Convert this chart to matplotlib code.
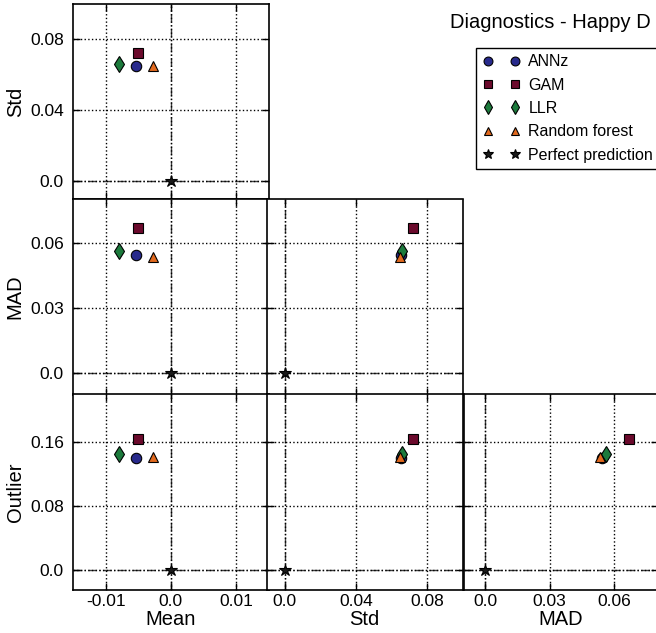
import matplotlib
matplotlib.use("Agg")
import matplotlib.pyplot as plt
from matplotlib.ticker import FixedLocator, FixedFormatter, NullFormatter

plt.rcParams['font.family'] = ['Liberation Sans', 'DejaVu Sans']

methods = ["ANNz", "GAM", "LLR", "Random forest", "Perfect prediction"]
colors = ["#282a8c", "#6b0a2c", "#1c7a3c", "#e2691e", "#1a1a1a"]
markers = ["o", "s", "d", "^", "*"]
msizes = [7.5, 7.5, 8, 7.5, 9]

metrics = ["Mean", "Std", "MAD", "Outlier"]
mean_vals = [-0.0054, -0.0051, -0.0079, -0.0028, 0.0]
std_vals = [0.0652, 0.0722, 0.0661, 0.0650, 0.0]
mad_vals = [0.0542, 0.0668, 0.0561, 0.0534, 0.0]
outlier_vals = [0.140, 0.164, 0.145, 0.141, 0.0]
values = {"Mean": mean_vals, "Std": std_vals, "MAD": mad_vals, "Outlier": outlier_vals}

limits = {"Mean": (-0.015, 0.015), "Std": (-0.01, 0.1), "MAD": (-0.01, 0.08), "Outlier": (-0.024, 0.22)}
ticks = {"Mean": [-0.01, 0.0, 0.01], "Std": [0.0, 0.04, 0.08], "MAD": [0.0, 0.03, 0.06], "Outlier": [0.0, 0.08, 0.16]}
ticklabels = {"Mean": ["-0.01", "0.0", "0.01"], "Std": ["0.0", "0.04", "0.08"],
              "MAD": ["0.0", "0.03", "0.06"], "Outlier": ["0.0", "0.08", "0.16"]}

title_text = "Diagnostics - Happy D"

W, H = 656, 633
fig = plt.figure(figsize=(W / 100, H / 100), dpi=100)

col_x = [(73, 268.5), (267, 462.5), (463.5, 657.5)]
row_y = [(4, 199), (199.5, 394.5), (394, 589.5)]

xmetrics = ["Mean", "Std", "MAD"]
ymetrics = ["Std", "MAD", "Outlier"]

first_ax = None
for r, ym in enumerate(ymetrics):
    for c, xm in enumerate(xmetrics):
        if c > r:
            continue
        x0, x1 = col_x[c]
        y0, y1 = row_y[r]
        ax = fig.add_axes([x0 / W, 1 - y1 / H, (x1 - x0) / W, (y1 - y0) / H])
        ax.set_xlim(*limits[xm])
        ax.set_ylim(*limits[ym])
        ax.xaxis.set_major_locator(FixedLocator(ticks[xm]))
        ax.yaxis.set_major_locator(FixedLocator(ticks[ym]))
        if r == 2:
            ax.xaxis.set_major_formatter(FixedFormatter(ticklabels[xm]))
            ax.set_xlabel(xm, fontsize=14.5, labelpad=0.5)
        else:
            ax.xaxis.set_major_formatter(NullFormatter())
        if c == 0:
            ax.yaxis.set_major_formatter(FixedFormatter(ticklabels[ym]))
            ax.set_ylabel(ym, fontsize=14.5, labelpad=4)
        else:
            ax.yaxis.set_major_formatter(NullFormatter())
        ax.tick_params(direction='in', top=True, right=True, length=5, width=1,
                       labelsize=12.5)
        ax.tick_params(axis='x', pad=3.5)
        ax.tick_params(axis='y', pad=6.5)
        ax.grid(True, linestyle=':', color='black', linewidth=1)
        ax.axvline(0, color='0.25', linestyle='-.', linewidth=1, zorder=1.5)
        ax.axhline(0, color='0.25', linestyle='-.', linewidth=1, zorder=1.5)
        for sp in ax.spines.values():
            sp.set_linewidth(1.2)
        for i, m in enumerate(methods):
            ax.plot([values[xm][i]], [values[ym][i]], linestyle='none',
                    marker=markers[i], markersize=msizes[i], markerfacecolor=colors[i],
                    markeredgecolor='black', markeredgewidth=0.8, label=m, zorder=3)
        if first_ax is None:
            first_ax = ax

handles, labels = first_ax.get_legend_handles_labels()
leg = fig.legend(handles, labels, loc='upper left', bbox_to_anchor=(476.5 / W, 1 - 48 / H),
                 numpoints=2, fontsize=11.5, frameon=True, fancybox=False,
                 edgecolor='black', framealpha=1, borderaxespad=0, labelspacing=0.52,
                 handlelength=2.3, handletextpad=0.55, borderpad=0.4, markerscale=0.85)
leg.get_frame().set_linewidth(1)

fig.text(450 / W, 1 - 23 / H, title_text, fontsize=14.5, ha='left', va='center')

fig.savefig("out.png", dpi=100)
